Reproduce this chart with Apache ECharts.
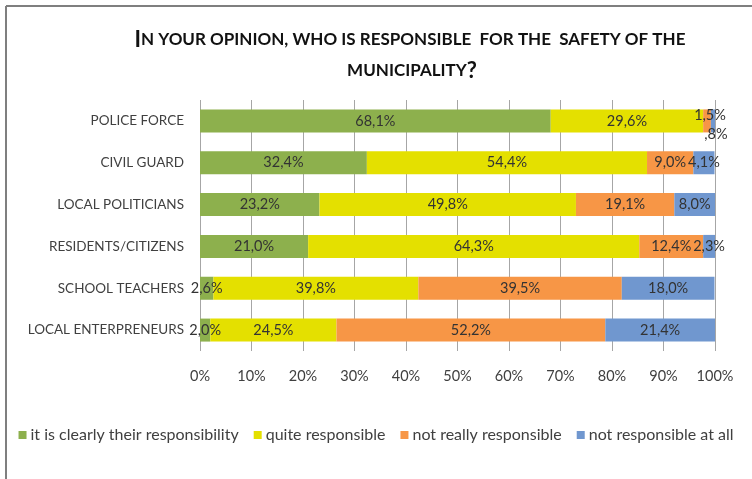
<!DOCTYPE html>
<html>
<head>
<meta charset="utf-8">
<script src="https://cdn.jsdelivr.net/npm/echarts@6/dist/echarts.min.js"></script>
<style>
  html, body { margin: 0; padding: 0; background: #fff; }
  #chart { width: 752px; height: 479px; }
</style>
</head>
<body>
<div id="chart"></div>
<script>
// Survey answers per actor, percent of respondents
const categories = ['POLICE FORCE', 'CIVIL GUARD', 'LOCAL POLITICIANS', 'RESIDENTS/CITIZENS', 'SCHOOL TEACHERS', 'LOCAL ENTERPRENEURS'];
const seriesNames = ['it is clearly their responsibility', 'quite responsible', 'not really responsible', 'not responsible at all'];
const clearlyResponsible = [68.1, 32.4, 23.2, 21.0, 2.6, 2.0];
const quiteResponsible = [29.6, 54.4, 49.8, 64.3, 39.8, 24.5];
const notReallyResponsible = [1.5, 9.0, 19.1, 12.4, 39.5, 52.2];
const notResponsibleAtAll = [0.8, 4.1, 8.0, 2.3, 18.0, 21.4];
const xTicks = [0, 10, 20, 30, 40, 50, 60, 70, 80, 90, 100];

const colors = ['#8DB04D', '#E4E000', '#F79646', '#7097CF'];
const FONT = 'Lato, "Open Sans", sans-serif';

// Comma decimal, leading zero dropped for values under 1
function fmt(v) {
  let s = v.toFixed(1).replace('.', ',');
  if (s.startsWith('0,')) s = s.slice(1);
  return s + '%';
}

// Thin slices on the first row get their labels nudged off the bar
function buildData(values, seriesIdx) {
  return values.map((v, i) => {
    const item = { value: v };
    if (i === 0 && seriesIdx === 2) item.label = { offset: [3, -6] };
    if (i === 0 && seriesIdx === 3) item.label = { offset: [3, 13] };
    return item;
  });
}

const allValues = [clearlyResponsible, quiteResponsible, notReallyResponsible, notResponsibleAtAll];

const chart = echarts.init(document.getElementById('chart'), null, { renderer: 'canvas' });

const smallCaps = { fontFamily: FONT, fontWeight: 'bold', fontSize: 17, color: '#111' };
const bigCaps = { fontFamily: FONT, fontWeight: 'bold', fontSize: 22, color: '#111' };

chart.setOption({
  animation: false,
  color: colors,
  title: [
    {
      text: '{b|I}{s|N YOUR OPINION, WHO IS RESPONSIBLE  FOR THE  SAFETY OF THE}',
      left: 405, top: 24, textAlign: 'center',
      textStyle: { rich: { b: bigCaps, s: smallCaps } }
    },
    {
      text: '{s|MUNICIPALITY}{b|?}',
      left: 407, top: 55, textAlign: 'center',
      textStyle: { rich: { b: bigCaps, s: smallCaps } }
    }
  ],
  graphic: [
    { type: 'line', shape: { x1: 6, y1: 6, x2: 752, y2: 6 }, style: { stroke: '#7f7f7f', lineWidth: 2 } },
    { type: 'line', shape: { x1: 6, y1: 6, x2: 6, y2: 479 }, style: { stroke: '#7f7f7f', lineWidth: 2 } }
  ],
  legend: {
    bottom: 31,
    left: 'center',
    icon: 'rect',
    itemWidth: 8,
    itemHeight: 8,
    itemGap: 15,
    textStyle: { fontFamily: FONT, fontSize: 16, color: '#404040', padding: [0, 0, 0, -1] },
    data: seriesNames
  },
  grid: { left: 200, right: 37, top: 100, height: 251, containLabel: false },
  xAxis: {
    type: 'value',
    min: 0, max: 100, interval: 10,
    axisLine: { show: false },
    axisTick: { show: false },
    axisLabel: {
      margin: 18,
      fontFamily: FONT, fontSize: 14.5, color: '#404040',
      formatter: v => (xTicks.includes(v) ? v + '%' : '')
    },
    splitLine: { lineStyle: { color: '#a6a6a6', width: 1 } }
  },
  yAxis: {
    type: 'category',
    inverse: true,
    data: categories,
    axisLine: { show: false },
    axisTick: { show: false },
    axisLabel: { margin: 16, fontFamily: FONT, fontSize: 13.5, color: '#404040' }
  },
  series: seriesNames.map((name, si) => ({
    name,
    type: 'bar',
    stack: 'total',
    barWidth: '55%',
    data: buildData(allValues[si], si),
    label: {
      show: true,
      position: 'inside',
      fontFamily: FONT,
      fontSize: 14.5,
      color: '#333',
      formatter: p => fmt(p.value)
    }
  }))
});
</script>
</body>
</html>
